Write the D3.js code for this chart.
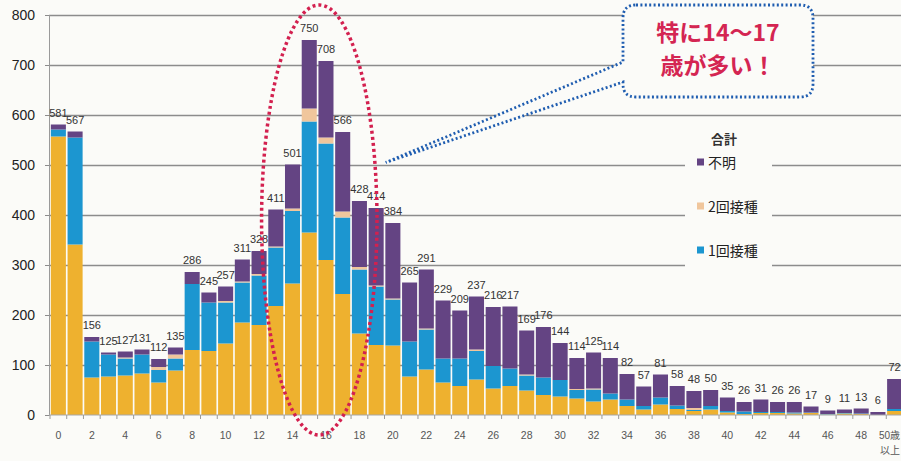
<!DOCTYPE html>
<html>
<head>
<meta charset="utf-8">
<script src="https://cdn.jsdelivr.net/npm/d3@7"></script>
<style>
  html, body { margin: 0; padding: 0; background: #fbfbf8; }
  svg { display: block; font-family: "Liberation Sans", Arial, "Noto Sans CJK JP", sans-serif; }
</style>
</head>
<body>
<svg id="chart" width="901" height="461"></svg>
<script>
// ages 0..49, last bar is 50 and over
var ages = ["0","1","2","3","4","5","6","7","8","9","10","11","12","13","14","15","16","17","18","19",
  "20","21","22","23","24","25","26","27","28","29","30","31","32","33","34","35","36","37","38","39",
  "40","41","42","43","44","45","46","47","48","49","50+"]

// stacked series, bottom to top
var noDose  = [557,341,75,77,79,83,65,89,130,128,143,185,180,218,263,365,310,242,163,140,
  139,77,91,65,58,71,53,58,49,40,37,33,27,31,18,11,21,12,8,11,5,2,4,4,3,4,1,3,2,0,8]
var dose1   = [14,214,72,44,34,38,25,24,132,97,82,80,99,117,145,222,233,153,128,117,
  92,70,80,48,55,57,45,35,30,35,33,17,24,12,13,7,14,7,2,7,3,5,2,2,2,1,1,1,1,0,4]
var dose2   = [0,0,0,0,2,0,6,8,0,0,3,2,3,2,5,26,12,12,5,2,
  2,0,2,0,0,3,0,0,2,0,0,2,2,0,0,0,0,0,4,0,0,0,0,0,0,0,0,0,0,0,0]
var unknown = [10,12,9,4,12,10,16,14,24,20,29,44,46,74,88,137,153,159,132,155,
  151,118,118,116,96,106,118,124,88,101,74,62,72,71,51,39,46,39,34,32,27,19,25,20,21,12,7,7,10,6,60]

var xTickLabels = ["0","2","4","6","8","10","12","14","16","18","20","22","24","26","28","30",
  "32","34","36","38","40","42","44","46","48","50+"]
var yTicks = [0,100,200,300,400,500,600,700,800]

var legendTitle = "合計"
var legendKeys = ["unknown","dose2","dose1"]
var legendNames = {unknown: "不明", dose2: "2回接種", dose1: "1回接種"}
var calloutLines = ["特に14〜17", "歳が多い！"]

var colors = {noDose: "#eeb12f", dose1: "#1c96d0", dose2: "#f0c69c", unknown: "#644483"}

var width = 901, height = 461
var svg = d3.select("#chart")

var rows = ages.map(function(a, i) {
    return {age: a, noDose: noDose[i], dose1: dose1[i], dose2: dose2[i], unknown: unknown[i],
        total: noDose[i] + dose1[i] + dose2[i] + unknown[i]}
})

var x = d3.scaleBand().domain(ages).range([50, 903]).paddingInner(0.1).paddingOuter(0.05)
var y = d3.scaleLinear().domain([0, 800]).range([415, 15])

// gridlines
svg.append("g")
    .attr("transform", "translate(49,0)")
    .call(d3.axisLeft(y).tickValues(yTicks.slice(1)).tickSize(-(width - 49)).tickFormat(""))
    .call(function(g) {
        g.select(".domain").remove()
        g.selectAll("line").attr("stroke", "#8c8c8c").attr("stroke-width", 1.3)
    })

// y axis
svg.append("g")
    .attr("transform", "translate(49,0)")
    .call(d3.axisLeft(y).tickValues(yTicks).tickSize(4).tickPadding(10))
    .call(function(g) {
        g.select(".domain").attr("stroke", "#9a9a9a")
        g.selectAll("line").attr("stroke", "#8c8c8c")
        g.selectAll("text").attr("font-size", 14).attr("fill", "#222")
            .attr("font-family", "'Liberation Sans', Arial, sans-serif")
    })

// stacked bars
var stack = d3.stack().keys(["noDose", "dose1", "dose2", "unknown"])
var series = stack(rows)

svg.append("g").selectAll("g")
    .data(series)
    .join("g")
    .attr("fill", function(d) { return colors[d.key] })
    .selectAll("rect")
    .data(function(d) { return d })
    .join("rect")
    .attr("x", function(d) { return x(d.data.age) })
    .attr("width", x.bandwidth())
    .attr("y", function(d) { return y(d[1]) })
    .attr("height", function(d) { return y(d[0]) - y(d[1]) })

// x axis line + band ticks
svg.append("line")
    .attr("x1", 49).attr("x2", width)
    .attr("y1", y(0)).attr("y2", y(0))
    .attr("stroke", "#a8a8a8").attr("stroke-width", 1.2)

svg.append("g").selectAll("line")
    .data(ages)
    .join("line")
    .attr("x1", function(d) { return x(d) - x.step() * x.paddingInner() / 2 })
    .attr("x2", function(d) { return x(d) - x.step() * x.paddingInner() / 2 })
    .attr("y1", y(0)).attr("y2", y(0) + 4)
    .attr("stroke", "#9a9a9a")

var xl = svg.append("g").selectAll("text")
    .data(xTickLabels)
    .join("text")
    .attr("x", function(d) { return x(d) + x.bandwidth() / 2 })
    .attr("y", 439)
    .attr("text-anchor", "middle")
    .attr("font-size", 10.5)
    .attr("fill", "#555")
xl.filter(function(d) { return d != "50+" }).text(function(d) { return d })
// last label sits against the right edge
var last = xl.filter(function(d) { return d == "50+" })
    .attr("text-anchor", "end")
    .attr("x", width - 1)
    .attr("font-size", 10)
last.append("tspan").text("50歳")
last.append("tspan").attr("x", width - 1).attr("dy", 15).text("以上")

// total labels
svg.append("g").selectAll("text")
    .data(rows)
    .join("text")
    .attr("x", function(d) { return x(d.age) + x.bandwidth() / 2 })
    .attr("y", function(d) { return y(d.total) - 8 })
    .attr("text-anchor", "middle")
    .attr("font-size", 11)
    .attr("fill", "#333")
    .text(function(d) { return d.total })

// legend
var lg = svg.append("g")
lg.append("rect")
    .attr("x", 685).attr("y", y(590)).attr("width", 87).attr("height", y(250) - y(590))
    .attr("fill", "#fbfbf8")
lg.append("text")
    .attr("x", 724).attr("y", y(590) + 24)
    .attr("text-anchor", "middle")
    .attr("font-size", 13).attr("font-weight", "bold").attr("fill", "#333")
    .attr("font-family", "'Noto Sans CJK JP', sans-serif")
    .text(legendTitle)
var items = lg.selectAll("g.item")
    .data(legendKeys)
    .join("g")
    .attr("class", "item")
    .attr("transform", function(d, i) { return "translate(697," + (y(505) + i * 44) + ")" })
items.append("rect")
    .attr("x", 0).attr("y", -4).attr("width", 7).attr("height", 7)
    .attr("fill", function(d) { return colors[d] })
items.append("text")
    .attr("x", 11).attr("y", 5)
    .attr("font-size", 14).attr("fill", "#222")
    .attr("font-family", "'Noto Sans CJK JP', sans-serif")
    .text(function(d) { return legendNames[d] })

// red dotted ellipse round 14-17
svg.append("ellipse")
    .attr("cx", x("0") + x.bandwidth() / 2 + 15.6 * x.step())
    .attr("cy", y(390))
    .attr("rx", 3.45 * x.step())
    .attr("ry", y(0) - y(430))
    .attr("fill", "none")
    .attr("stroke", "#d3204f")
    .attr("stroke-width", 3.5)
    .attr("stroke-dasharray", "3 3")

// callout bubble
var bx0 = 623, bx1 = 813, by0 = 5, by1 = 97
var tipX = x("19") + x.bandwidth() + 2, tipY = y(505)
var r = 13
var path = d3.path()
path.moveTo(bx0 + r, by0)
path.lineTo(bx1 - r, by0)
path.quadraticCurveTo(bx1, by0, bx1, by0 + r)
path.lineTo(bx1, by1 - r)
path.quadraticCurveTo(bx1, by1, bx1 - r, by1)
path.lineTo(bx0 + r, by1)
path.quadraticCurveTo(bx0, by1, bx0, by1 - r)
path.lineTo(bx0, 82)
path.lineTo(tipX, tipY)
path.lineTo(bx0, 62)
path.lineTo(bx0, by0 + r)
path.quadraticCurveTo(bx0, by0, bx0 + r, by0)
path.closePath()
svg.append("path")
    .attr("d", path.toString())
    .attr("fill", "#fbfbf8")
    .attr("stroke", "#1f5db0")
    .attr("stroke-width", 2.8)
    .attr("stroke-dasharray", "2 2.4")

svg.append("g").selectAll("text")
    .data(calloutLines)
    .join("text")
    .attr("x", 718)
    .attr("y", function(d, i) { return 41 + i * 33 })
    .attr("text-anchor", "middle")
    .attr("font-size", 23).attr("font-weight", "bold")
    .attr("fill", "#d42552")
    .attr("font-family", "'Noto Sans CJK JP', sans-serif")
    .text(function(d) { return d })
</script>
</body>
</html>
